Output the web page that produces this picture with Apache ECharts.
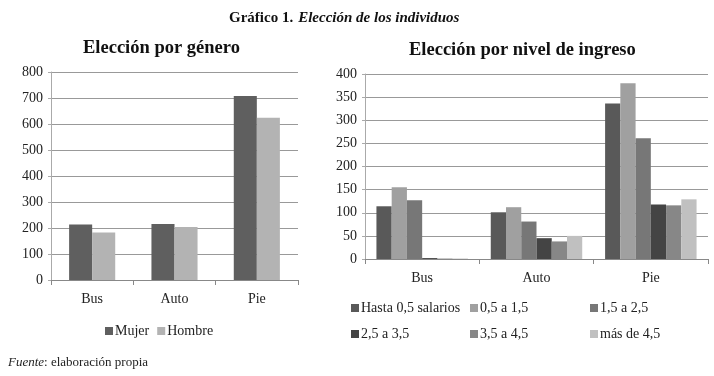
<!DOCTYPE html>
<html>
<head>
<meta charset="utf-8">
<script src="https://cdn.jsdelivr.net/npm/echarts@6/dist/echarts.min.js"></script>
<style>
  html, body { margin: 0; padding: 0; background: #fff; }
  #chart { width: 714px; height: 376px; }
</style>
</head>
<body>
<div id="chart"></div>
<script>
// datos
const modos = ['Bus', 'Auto', 'Pie'];
const generos = ['Mujer', 'Hombre'];
const mujer = [213, 215, 708];
const hombre = [183, 204, 624];

const niveles = ['Hasta 0,5 salarios', '0,5 a 1,5', '1,5 a 2,5', '2,5 a 3,5', '3,5 a 4,5', 'más de 4,5'];
const hasta05 = [114, 101, 336];
const de05a15 = [155, 112, 380];
const de15a25 = [127, 81, 261];
const de25a35 = [2, 45, 118];
const de35a45 = [1, 38, 116];
const mas45 = [1, 50, 129];

const ticksGenero = [0, 800, 100];
const ticksIngreso = [0, 400, 50];

const coloresGenero = ['#5f5f5f', '#b3b3b3'];
const coloresIngreso = ['#595959', '#a0a0a0', '#777777', '#444444', '#878787', '#c0c0c0'];
const datosIngreso = [hasta05, de05a15, de15a25, de25a35, de35a45, mas45];

const fuente = 'Liberation Serif';
const txt = { fontFamily: fuente, fontSize: 14, color: '#222' };

const myChart = echarts.init(document.getElementById('chart'));

const ejeX = (grid) => ({
  type: 'category',
  gridIndex: grid,
  data: modos,
  axisLine: { lineStyle: { color: '#888' } },
  axisTick: { show: true, length: 5, lineStyle: { color: '#888' } },
  axisLabel: { ...txt, margin: 12 }
});

const ejeY = (grid, t) => ({
  type: 'value',
  gridIndex: grid,
  min: t[0], max: t[1], interval: t[2],
  axisLine: { show: true, lineStyle: { color: '#aaa' } },
  axisTick: { show: true, length: 3, lineStyle: { color: '#aaa' } },
  splitLine: { lineStyle: { color: '#999' } },
  axisLabel: { ...txt, margin: 8 }
});

let series = [];
generos.forEach((g, i) => {
  series.push({
    name: g, type: 'bar', xAxisIndex: 0, yAxisIndex: 0,
    data: i === 0 ? mujer : hombre,
    itemStyle: { color: coloresGenero[i] },
    barGap: '0%', barCategoryGap: '44%'
  });
});
niveles.forEach((n, i) => {
  series.push({
    name: n, type: 'bar', xAxisIndex: 1, yAxisIndex: 1,
    data: datosIngreso[i],
    itemStyle: { color: coloresIngreso[i] },
    barGap: '0%', barCategoryGap: '20%'
  });
});

const leyenda = (names, left, top, orient) => ({
  data: names, left: left, top: top, orient: orient || 'horizontal',
  itemWidth: 8, itemHeight: 8, itemGap: orient === 'vertical' ? 12 : 8,
  icon: 'rect', textStyle: { ...txt, padding: [0, 0, 0, -3] },
  selectedMode: false
});

const options = {
  animation: false,
  title: [
    {
      text: '{b|Gráfico 1.} {i|Elección de los individuos}',
      left: 224, top: 4,
      textStyle: { rich: {
        b: { fontFamily: fuente, fontSize: 15, fontWeight: 'bold', color: '#111' },
        i: { fontFamily: fuente, fontSize: 15, fontStyle: 'italic', color: '#111' }
      } }
    },
    { text: 'Elección por género', left: 78, top: 34,
      textStyle: { fontFamily: fuente, fontSize: 18.5, fontWeight: 'bold', color: '#111' } },
    { text: 'Elección por nivel de ingreso', left: 404, top: 36,
      textStyle: { fontFamily: fuente, fontSize: 18.5, fontWeight: 'bold', color: '#111' } }
  ],
  grid: [
    { left: 51, top: 72, width: 247, height: 208 },
    { left: 365, top: 74, width: 343, height: 185 }
  ],
  xAxis: [ejeX(0), ejeX(1)],
  yAxis: [ejeY(0, ticksGenero), ejeY(1, ticksIngreso)],
  legend: [
    leyenda(generos, 100, 319),
    leyenda([niveles[0], niveles[3]], 346, 296, 'vertical'),
    leyenda([niveles[1], niveles[4]], 465, 296, 'vertical'),
    leyenda([niveles[2], niveles[5]], 585, 296, 'vertical')
  ],
  graphic: [{
    type: 'text', left: 8, top: 356,
    style: {
      text: '{i|Fuente}: elaboración propia',
      font: '13px "Liberation Serif"', fill: '#222',
      rich: { i: { fontFamily: fuente, fontSize: 13, fontStyle: 'italic', fill: '#222' } }
    }
  }],
  series: series
};

myChart.setOption(options);
</script>
</body>
</html>
